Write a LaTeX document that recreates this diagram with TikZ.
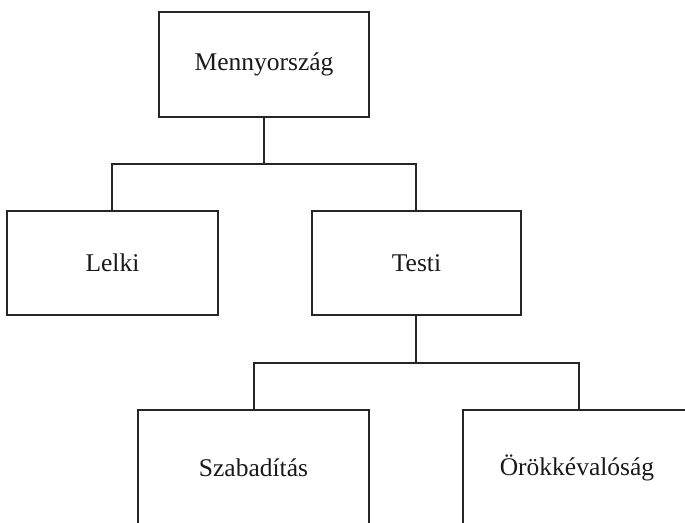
\documentclass[tikz,border=0pt]{standalone}
\usepackage{fontspec}
\setmainfont{Liberation Serif}
\usepackage{tikz}
\usetikzlibrary{positioning}

\tikzset{
  doboz/.style={draw=black!85, line width=2pt, minimum height=105pt, inner sep=0pt,
    text=black!90, font=\fontsize{25.5}{30}\selectfont},
  vonal/.style={draw=black!85, line width=2pt}
}

\begin{document}
\begin{tikzpicture}[x=1pt, y=-1pt]
		\useasboundingbox (0,0) rectangle (685,522);
		\clip (0,0) rectangle (685,522);
		% felso szint
		\node[doboz, minimum width=210pt] (menny) at (264,64.5) {Mennyország};
		\node[doboz, minimum width=211pt, minimum height=104pt] (lelki) at (112.5,263) {Lelki};
		\node[doboz, minimum width=209pt, minimum height=104pt] (testi) at (416.5,263) {Testi};
		% also szint (levagva)
		\node[doboz, minimum width=231pt, minimum height=116pt] (szab) at (253.5,468) {Szabadítás};
		\node[doboz, minimum width=228pt, minimum height=116pt] (orok) at (577,468) {Örökkévalóság};
		% osszekotok
		\coordinate (elag1) at (264,164);
		\coordinate (elag2) at (416,363);
		\draw[vonal] (menny.south) -- (elag1);
		\draw[vonal] (lelki.north -| 112,0) |- (elag1) -| (testi.north -| 416,0);
		\draw[vonal] (testi.south -| elag2) -- (elag2);
		\draw[vonal] (szab.north -| 254,0) |- (elag2) -| (orok.north -| 579,0);
	\end{tikzpicture}
\end{document}
